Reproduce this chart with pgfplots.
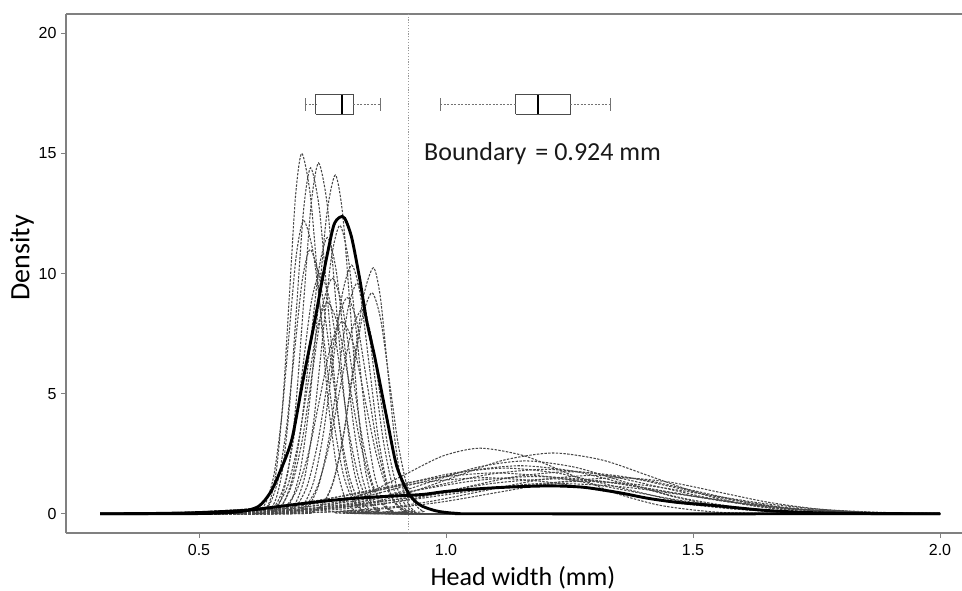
\documentclass[border=0pt]{standalone}
\usepackage{fontspec}
\setmainfont{Liberation Sans}
\newfontfamily\carlito{Carlito}
\usepackage{pgfplots}
\pgfplotsset{compat=1.18}
\pgfplotsset{
  thindash/.style={black!72, line width=1.05bp, dash pattern=on 2.4bp off 1.4bp, smooth, tension=0.45},
  thick/.style={black, line width=2.9bp, smooth, tension=0.45},
}
\begin{document}
\begin{tikzpicture}
\begin{axis}[
  name=ax,
  scale only axis, width=896bp, height=519bp,
  xmin=0.2308, xmax=2.0445, ymin=-0.8, ymax=20.8,
  axis x line*=box, axis y line*=left,
  axis line style={draw=black!50, line width=1.2bp},
  xtick={0.5,1.0,1.5,2.0}, xticklabels={0.5,1.0,1.5,2.0},
  ytick={0,5,10,15,20},
  xtick pos=bottom, ytick pos=left,
  tick align=outside, major tick length=5bp,
  tick style={draw=black!50, line width=0.8bp},
  ticklabel style={font=\fontsize{16bp}{19bp}\selectfont, text=black},
  /pgf/number format/assume math mode=true,
  xticklabel style={yshift=-3bp},
  yticklabel style={xshift=-1bp},
  xlabel={Head width (mm)}, ylabel={Density},
  every axis x label/.style={at={(axis description cs:0.51,-0.102)}, anchor=base, font=\carlito\fontsize{26bp}{30bp}\selectfont},
  every axis y label/.style={at={(axis description cs:-0.049,0.53)}, anchor=center, rotate=90, font=\carlito\fontsize{28bp}{32bp}\selectfont},
]
% boundary
\addplot[black!40, line width=0.8bp, dash pattern=on 1.2bp off 1.6bp] coordinates {(0.924,-0.8) (0.924,20.8)};

% narrow dashed curves
\addplot[thindash] coordinates {(0.3,0)(0.608,0.005)(0.633,0.17)(0.6455,0.66)(0.658,2.03)(0.6705,4.87)(0.683,9.10)(0.6955,13.24)(0.708,15.0)(0.7255,13.24)(0.743,9.10)(0.7605,4.87)(0.778,2.03)(0.7955,0.66)(0.813,0.17)(0.848,0.005)(2.0,0)};
\addplot[thindash] coordinates {(0.3,0)(0.614,0.004)(0.642,0.16)(0.656,0.63)(0.670,1.95)(0.684,4.68)(0.698,8.73)(0.712,12.71)(0.726,14.4)(0.7435,12.71)(0.761,8.73)(0.7785,4.68)(0.796,1.95)(0.8135,0.63)(0.831,0.16)(0.866,0.004)(2.0,0)};
\addplot[thindash] coordinates {(0.3,0)(0.622,0.004)(0.652,0.16)(0.667,0.64)(0.682,1.98)(0.697,4.74)(0.712,8.85)(0.727,12.88)(0.742,14.6)(0.7595,12.88)(0.777,8.85)(0.7945,4.74)(0.812,1.98)(0.8295,0.64)(0.847,0.16)(0.882,0.004)(2.0,0)};
\addplot[thindash] coordinates {(0.3,0)(0.636,0.004)(0.671,0.16)(0.6885,0.62)(0.706,1.91)(0.7235,4.58)(0.741,8.55)(0.7585,12.44)(0.776,14.1)(0.791,12.44)(0.806,8.55)(0.821,4.58)(0.836,1.91)(0.851,0.62)(0.866,0.16)(0.896,0.004)(2.0,0)};
\addplot[thindash] coordinates {(0.3,0)(0.592,0.004)(0.622,0.14)(0.637,0.54)(0.652,1.65)(0.667,3.96)(0.682,7.40)(0.697,10.77)(0.712,12.2)(0.732,10.77)(0.752,7.40)(0.772,3.96)(0.792,1.65)(0.812,0.54)(0.832,0.14)(0.872,0.004)(2.0,0)};
\addplot[thindash] coordinates {(0.3,0)(0.597,0.003)(0.629,0.12)(0.645,0.48)(0.661,1.49)(0.677,3.57)(0.693,6.67)(0.709,9.71)(0.725,11.0)(0.745,9.71)(0.765,6.67)(0.785,3.57)(0.805,1.49)(0.825,0.48)(0.845,0.12)(0.885,0.003)(2.0,0)};
\addplot[thindash] coordinates {(0.3,0)(0.620,0.003)(0.655,0.13)(0.6725,0.50)(0.690,1.56)(0.7075,3.73)(0.725,6.97)(0.7425,10.15)(0.760,11.5)(0.7775,10.15)(0.795,6.97)(0.8125,3.73)(0.830,1.56)(0.8475,0.50)(0.865,0.13)(0.900,0.003)(2.0,0)};
\addplot[thindash] coordinates {(0.3,0)(0.645,0.004)(0.680,0.13)(0.6975,0.53)(0.715,1.62)(0.7325,3.90)(0.750,7.28)(0.7675,10.59)(0.785,12.0)(0.8025,10.59)(0.820,7.28)(0.8375,3.90)(0.855,1.62)(0.8725,0.53)(0.890,0.13)(0.925,0.004)(2.0,0)};
\addplot[thindash] coordinates {(0.3,0)(0.657,0.003)(0.695,0.11)(0.714,0.45)(0.733,1.40)(0.752,3.36)(0.771,6.28)(0.790,9.13)(0.809,10.35)(0.8265,9.13)(0.844,6.28)(0.8615,3.36)(0.879,1.40)(0.8965,0.45)(0.914,0.11)(0.949,0.003)(2.0,0)};
\addplot[thindash] coordinates {(0.3,0)(0.693,0.003)(0.733,0.11)(0.753,0.45)(0.773,1.39)(0.793,3.32)(0.813,6.21)(0.833,9.04)(0.853,10.24)(0.867,9.04)(0.881,6.21)(0.895,3.32)(0.909,1.39)(0.923,0.45)(0.937,0.11)(0.965,0.003)(2.0,0)};
\addplot[thindash] coordinates {(0.3,0)(0.690,0.003)(0.730,0.10)(0.750,0.40)(0.770,1.24)(0.790,2.99)(0.810,5.58)(0.830,8.12)(0.850,9.2)(0.8675,8.12)(0.885,5.58)(0.9025,2.99)(0.920,1.24)(0.9375,0.40)(0.955,0.10)(0.990,0.003)(2.0,0)};
\addplot[thindash] coordinates {(0.3,0)(0.610,0.003)(0.650,0.11)(0.670,0.43)(0.690,1.33)(0.710,3.18)(0.730,5.94)(0.750,8.65)(0.770,9.8)(0.790,8.65)(0.810,5.94)(0.830,3.18)(0.850,1.33)(0.870,0.43)(0.890,0.11)(0.930,0.003)(2.0,0)};
\addplot[thindash] coordinates {(0.3,0)(0.640,0.003)(0.680,0.10)(0.700,0.40)(0.720,1.22)(0.740,2.92)(0.760,5.46)(0.780,7.94)(0.800,9.0)(0.820,7.94)(0.840,5.46)(0.860,2.92)(0.880,1.22)(0.900,0.40)(0.920,0.10)(0.960,0.003)(2.0,0)};
\addplot[thindash] coordinates {(0.3,0)(0.650,0.003)(0.695,0.09)(0.7175,0.37)(0.740,1.15)(0.7625,2.76)(0.785,5.16)(0.8075,7.50)(0.830,8.5)(0.8475,7.50)(0.865,5.16)(0.8825,2.76)(0.900,1.15)(0.9175,0.37)(0.935,0.09)(0.970,0.003)(2.0,0)};
\addplot[thindash] coordinates {(0.3,0)(0.605,0.003)(0.640,0.11)(0.6575,0.44)(0.675,1.35)(0.6925,3.25)(0.710,6.07)(0.7275,8.83)(0.745,10.0)(0.765,8.83)(0.785,6.07)(0.805,3.25)(0.825,1.35)(0.845,0.44)(0.865,0.11)(0.905,0.003)(2.0,0)};
\addplot[thindash] coordinates {(0.3,0)(0.668,0.003)(0.706,0.11)(0.725,0.42)(0.744,1.30)(0.763,3.12)(0.782,5.82)(0.801,8.47)(0.820,9.6)(0.8375,8.47)(0.855,5.82)(0.8725,3.12)(0.890,1.30)(0.9075,0.42)(0.925,0.11)(0.960,0.003)(2.0,0)};
\addplot[thindash] coordinates {(0.3,0)(0.610,0.002)(0.655,0.09)(0.6775,0.35)(0.700,1.08)(0.7225,2.60)(0.745,4.85)(0.7675,7.06)(0.790,8.0)(0.8125,7.06)(0.835,4.85)(0.8575,2.60)(0.880,1.08)(0.9025,0.35)(0.925,0.09)(0.970,0.002)(2.0,0)};
\addplot[thindash] coordinates {(0.3,0)(0.600,0.003)(0.640,0.10)(0.660,0.39)(0.680,1.19)(0.700,2.86)(0.720,5.34)(0.740,7.77)(0.760,8.8)(0.7825,7.77)(0.805,5.34)(0.8275,2.86)(0.850,1.19)(0.8725,0.39)(0.895,0.10)(0.940,0.003)(2.0,0)};

% broad dashed curves
\addplot[thindash] coordinates {(0.3,0)(0.619,0.030)(0.694,0.120)(0.769,0.369)(0.844,0.886)(0.919,1.656)(0.994,2.409)(1.069,2.73)(1.159,2.409)(1.249,1.656)(1.339,0.886)(1.429,0.369)(1.519,0.120)(1.609,0.030)(2.0,0)};
\addplot[thindash] coordinates {(0.3,0)(0.617,0.028)(0.717,0.111)(0.817,0.342)(0.917,0.821)(1.017,1.534)(1.117,2.233)(1.217,2.53)(1.317,2.233)(1.417,1.534)(1.517,0.821)(1.617,0.342)(1.717,0.111)(1.817,0.028)(2.0,0)};
\addplot[thindash] coordinates {(0.3,0)(0.49,0.022)(0.60,0.088)(0.71,0.271)(0.82,0.649)(0.93,1.213)(1.04,1.765)(1.15,2.0)(1.26,1.765)(1.37,1.213)(1.48,0.649)(1.59,0.271)(1.70,0.088)(1.81,0.022)(2.0,0)};
\addplot[thindash] coordinates {(0.3,0)(0.51,0.021)(0.625,0.081)(0.74,0.250)(0.855,0.601)(0.97,1.122)(1.085,1.633)(1.20,1.85)(1.315,1.633)(1.43,1.122)(1.545,0.601)(1.66,0.250)(1.775,0.081)(1.89,0.021)(2.0,0)};
\addplot[thindash] coordinates {(0.3,0)(0.59,0.019)(0.70,0.077)(0.81,0.237)(0.92,0.568)(1.03,1.061)(1.14,1.544)(1.25,1.75)(1.36,1.544)(1.47,1.061)(1.58,0.568)(1.69,0.237)(1.80,0.077)(1.91,0.019)(2.0,0)};
\addplot[thindash] coordinates {(0.3,0)(0.38,0.019)(0.50,0.075)(0.62,0.230)(0.74,0.552)(0.86,1.031)(0.98,1.500)(1.10,1.7)(1.225,1.500)(1.35,1.031)(1.475,0.552)(1.60,0.230)(1.725,0.075)(1.85,0.019)(2.0,0)};
\addplot[thindash] coordinates {(0.3,0)(0.64,0.018)(0.75,0.070)(0.86,0.216)(0.97,0.520)(1.08,0.970)(1.19,1.412)(1.30,1.6)(1.40,1.412)(1.50,0.970)(1.60,0.520)(1.70,0.216)(1.80,0.070)(1.90,0.018)(2.0,0)};
\addplot[thindash] coordinates {(0.3,0)(0.43,0.017)(0.555,0.068)(0.68,0.210)(0.805,0.503)(0.93,0.940)(1.055,1.368)(1.18,1.55)(1.31,1.368)(1.44,0.940)(1.57,0.503)(1.70,0.210)(1.83,0.068)(1.96,0.017)(2.0,0)};
\addplot[thindash] coordinates {(0.3,0)(0.50,0.016)(0.62,0.064)(0.74,0.196)(0.86,0.471)(0.98,0.879)(1.10,1.280)(1.22,1.45)(1.34,1.280)(1.46,0.879)(1.58,0.471)(1.70,0.196)(1.82,0.064)(1.94,0.016)(2.0,0)};
\addplot[thindash] coordinates {(0.3,0)(0.47,0.015)(0.605,0.059)(0.74,0.183)(0.875,0.438)(1.01,0.819)(1.145,1.191)(1.28,1.35)(1.40,1.191)(1.52,0.819)(1.64,0.438)(1.76,0.183)(1.88,0.059)(2.0,0.015)};
\addplot[thindash] coordinates {(0.3,0)(0.46,0.021)(0.57,0.083)(0.68,0.257)(0.79,0.617)(0.90,1.152)(1.01,1.677)(1.12,1.9)(1.23,1.677)(1.34,1.152)(1.45,0.617)(1.56,0.257)(1.67,0.083)(1.78,0.021)(2.0,0)};
\addplot[thindash] coordinates {(0.3,0)(0.63,0.017)(0.75,0.066)(0.87,0.203)(0.99,0.487)(1.11,0.910)(1.23,1.324)(1.35,1.5)(1.45,1.324)(1.55,0.910)(1.65,0.487)(1.75,0.203)(1.85,0.066)(1.95,0.017)(2.0,0)};
\addplot[thindash] coordinates {(0.3,0)(0.36,0.017)(0.48,0.066)(0.60,0.203)(0.72,0.487)(0.84,0.910)(0.96,1.324)(1.08,1.5)(1.205,1.324)(1.33,0.910)(1.455,0.487)(1.58,0.203)(1.705,0.066)(1.83,0.017)(2.0,0)};
\addplot[thindash] coordinates {(0.3,0)(0.40,0.014)(0.54,0.055)(0.68,0.169)(0.82,0.406)(0.96,0.758)(1.10,1.103)(1.24,1.25)(1.365,1.103)(1.49,0.758)(1.615,0.406)(1.74,0.169)(1.865,0.055)(1.99,0.014)(2.0,0)};
\addplot[thindash] coordinates {(0.3,0)(0.59,0.024)(0.685,0.097)(0.78,0.298)(0.875,0.714)(0.97,1.334)(1.065,1.942)(1.16,2.2)(1.26,1.942)(1.36,1.334)(1.46,0.714)(1.56,0.298)(1.66,0.097)(1.76,0.024)(2.0,0)};

% thick curves
\addplot[thick] coordinates {(0.3,0)(0.4,0.01)(0.5,0.05)(0.6,0.15)(0.65,0.27)(0.7,0.4)(0.75,0.52)(0.8,0.62)(0.866,0.71)(0.95,0.8)(1.0,0.93)(1.08,1.06)(1.15,1.13)(1.217,1.16)(1.28,1.1)(1.35,0.88)(1.41,0.64)(1.47,0.47)(1.55,0.33)(1.64,0.15)(1.72,0.06)(1.8,0.02)(1.9,0.005)(2.0,0)};
\addplot[thick] coordinates {(0.3,0)(0.5,0.01)(0.58,0.08)(0.62,0.3)(0.645,0.9)(0.665,1.8)(0.688,3.1)(0.711,5.6)(0.735,8.1)(0.752,10.0)(0.772,11.95)(0.785,12.34)(0.795,12.3)(0.809,11.5)(0.826,9.7)(0.839,8.07)(0.856,6.5)(0.880,4.0)(0.900,2.0)(0.924,0.86)(0.947,0.37)(0.98,0.12)(1.02,0.02)(1.1,0)(2.0,0)};

% boxplots
\addplot[black!70, line width=0.9bp] coordinates {(0.736,16.62)(0.812,16.62)(0.812,17.44)(0.736,17.44)(0.736,16.62)};
\addplot[black, line width=2bp] coordinates {(0.789,16.62)(0.789,17.44)};
\addplot[black!55, line width=0.9bp, dash pattern=on 2bp off 1.5bp] coordinates {(0.7146,17.03)(0.736,17.03)};
\addplot[black!55, line width=0.9bp, dash pattern=on 2bp off 1.5bp] coordinates {(0.812,17.03)(0.868,17.03)};
\addplot[black!55, line width=0.9bp] coordinates {(0.7146,16.77)(0.7146,17.29)};
\addplot[black!55, line width=0.9bp] coordinates {(0.868,16.77)(0.868,17.29)};
\addplot[black!70, line width=0.9bp] coordinates {(1.141,16.62)(1.251,16.62)(1.251,17.44)(1.141,17.44)(1.141,16.62)};
\addplot[black, line width=2bp] coordinates {(1.187,16.62)(1.187,17.44)};
\addplot[black!55, line width=0.9bp, dash pattern=on 2bp off 1.5bp] coordinates {(0.988,17.03)(1.141,17.03)};
\addplot[black!55, line width=0.9bp, dash pattern=on 2bp off 1.5bp] coordinates {(1.251,17.03)(1.333,17.03)};
\addplot[black!55, line width=0.9bp] coordinates {(0.988,16.77)(0.988,17.29)};
\addplot[black!55, line width=0.9bp] coordinates {(1.333,16.77)(1.333,17.29)};

\node[anchor=base west, inner sep=0pt, font=\carlito\fontsize{26bp}{30bp}\selectfont, text=black!90] at (axis cs:0.9555,14.72) {Boundary\hspace{9bp}= 0.924 mm};
\end{axis}
\pgfresetboundingbox
\path ([shift={(-66bp,-58bp)}]ax.south west) rectangle ([shift={(0bp,14bp)}]ax.north east);
\end{tikzpicture}
\end{document}
